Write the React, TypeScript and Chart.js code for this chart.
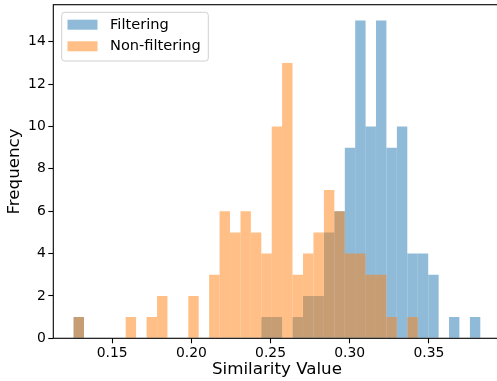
import React, { useEffect, useRef } from "react";
import { Chart, registerables } from "chart.js";

Chart.register(...registerables);

// Shared histogram bin edges (39 bins)
const binEdges = [
  0.1256, 0.1322, 0.1388, 0.1454, 0.1519, 0.1585, 0.1651, 0.1717, 0.1783, 0.1849,
  0.1915, 0.1981, 0.2046, 0.2112, 0.2178, 0.2244, 0.2310, 0.2376, 0.2442, 0.2508,
  0.2573, 0.2639, 0.2705, 0.2771, 0.2837, 0.2903, 0.2969, 0.3035, 0.3100, 0.3166,
  0.3232, 0.3298, 0.3364, 0.3430, 0.3496, 0.3562, 0.3627, 0.3693, 0.3759, 0.3825,
];

const filteringCounts = [
  1, 0, 0, 0, 0, 0, 0, 0, 0, 0, 0, 0, 0, 0, 0, 0, 0, 0, 1, 1,
  0, 1, 2, 2, 5, 6, 9, 15, 10, 15, 9, 10, 4, 4, 3, 0, 1, 0, 1,
];

const nonFilteringCounts = [
  1, 0, 0, 0, 0, 1, 0, 1, 2, 0, 0, 2, 0, 3, 6, 5, 6, 5, 4, 10,
  13, 3, 4, 5, 7, 6, 4, 4, 3, 3, 1, 0, 1, 0, 0, 0, 0, 0, 0,
];

const seriesLabels = ["Filtering", "Non-filtering"];
const xTickValues = [0.15, 0.2, 0.25, 0.3, 0.35];
const yTickValues = [0, 2, 4, 6, 8, 10, 12, 14];
const xRange = [0.1128, 0.3953];
const yRange = [0, 15.75];
const xTitle = "Similarity Value";
const yTitle = "Frequency";

const BLUE = "rgba(31,119,180,0.5)";
const ORANGE = "rgba(255,127,14,0.5)";
const FONT = "'DejaVu Sans', 'Liberation Sans', sans-serif";

const toPoints = (counts: number[]) =>
  counts.map((c, i) => ({ x: (binEdges[i] + binEdges[i + 1]) / 2, y: c }));

const framePlugin = {
  id: "frameAndLegend",
  afterDatasetsDraw(chart: any) {
    const { ctx, chartArea: a } = chart;
    ctx.save();
    // spines
    ctx.strokeStyle = "#000";
    ctx.lineWidth = 1.1;
    ctx.strokeRect(a.left, a.top, a.right - a.left, a.bottom - a.top);

    // legend box
    const lx = a.left + 8.4;
    const ly = a.top + 7.6;
    const lw = 146.6;
    const lh = 48.7;
    const r = 3;
    ctx.beginPath();
    ctx.moveTo(lx + r, ly);
    ctx.lineTo(lx + lw - r, ly);
    ctx.arcTo(lx + lw, ly, lx + lw, ly + r, r);
    ctx.lineTo(lx + lw, ly + lh - r);
    ctx.arcTo(lx + lw, ly + lh, lx + lw - r, ly + lh, r);
    ctx.lineTo(lx + r, ly + lh);
    ctx.arcTo(lx, ly + lh, lx, ly + lh - r, r);
    ctx.lineTo(lx, ly + r);
    ctx.arcTo(lx, ly, lx + r, ly, r);
    ctx.closePath();
    ctx.fillStyle = "rgba(255,255,255,0.8)";
    ctx.fill();
    ctx.strokeStyle = "#d0d0d0";
    ctx.lineWidth = 1;
    ctx.stroke();

    chart.data.datasets.forEach((ds: any, i: number) => {
      const py = ly + 7.4 + i * 21.6;
      ctx.fillStyle = ds.backgroundColor;
      ctx.fillRect(lx + 5.8, py, 30, 10);
      ctx.fillStyle = "#000";
      ctx.font = `14.6px ${FONT}`;
      ctx.textBaseline = "middle";
      ctx.textAlign = "left";
      ctx.fillText(ds.label, lx + 48.3, py + 5.3);
    });
    ctx.restore();
  },
};

export default function App() {
  const ref = useRef<HTMLCanvasElement>(null);

  useEffect(() => {
    const canvas = ref.current;
    if (!canvas) return;
    const chart = new Chart(canvas, {
      type: "bar",
      data: {
        datasets: [
          {
            label: seriesLabels[0],
            data: toPoints(filteringCounts),
            backgroundColor: BLUE,
            borderWidth: 0,
            inflateAmount: 0,
            order: 1,
            barPercentage: 1,
            categoryPercentage: 1,
            grouped: false,
          } as any,
          {
            label: seriesLabels[1],
            data: toPoints(nonFilteringCounts),
            backgroundColor: ORANGE,
            borderWidth: 0,
            inflateAmount: 0,
            order: 0,
            barPercentage: 1,
            categoryPercentage: 1,
            grouped: false,
          } as any,
        ],
      },
      options: {
        responsive: false,
        animation: false,
        layout: { padding: { top: 4.7, right: 9.4, left: 0, bottom: 0 } },
        plugins: {
          legend: { display: false },
          tooltip: { enabled: false },
        },
        scales: {
          x: {
            type: "linear",
            min: xRange[0],
            max: xRange[1],
            offset: false,
            grid: {
              display: true,
              offset: false,
              drawOnChartArea: false,
              drawTicks: true,
              tickLength: 5,
              tickColor: "#000",
              tickWidth: 1.1,
            },
            border: { display: false },
            afterBuildTicks: (axis: any) => {
              axis.ticks = xTickValues.map((v) => ({ value: v }));
            },
            afterFit: (scale: any) => {
              scale.height = 42.7;
              scale.paddingLeft = 0;
              scale.paddingRight = 0;
            },
            ticks: {
              autoSkip: false,
              maxRotation: 0,
              padding: 1.5,
              color: "#000",
              font: { family: FONT, size: 13.9 },
              callback: (v: any) => Number(v).toFixed(2),
            },
            title: {
              display: true,
              text: xTitle,
              color: "#000",
              font: { family: FONT, size: 16.7 },
              padding: { top: 0, bottom: 1.3 },
            },
          },
          y: {
            type: "linear",
            min: yRange[0],
            max: yRange[1],
            grid: {
              display: true,
              drawOnChartArea: false,
              drawTicks: true,
              tickLength: 5,
              tickColor: "#000",
              tickWidth: 1.1,
            },
            border: { display: false },
            afterBuildTicks: (axis: any) => {
              axis.ticks = yTickValues.map((v) => ({ value: v }));
            },
            afterFit: (scale: any) => {
              scale.width = 53.3;
              scale.paddingTop = 0;
              scale.paddingBottom = 0;
            },
            ticks: {
              autoSkip: false,
              padding: 2.5,
              color: "#000",
              font: { family: FONT, size: 13.9 },
              callback: (v: any) => String(v),
            },
            title: {
              display: true,
              text: yTitle,
              color: "#000",
              font: { family: FONT, size: 16.7 },
              padding: { top: 5, bottom: 0 },
            },
          },
        },
      } as any,
      plugins: [framePlugin],
    });
    return () => chart.destroy();
  }, []);

  return (
    <div
      style={{
        position: "fixed",
        left: 0,
        top: 0,
        width: 510,
        height: 381,
        overflow: "hidden",
        background: "#fff",
      }}
    >
      <canvas ref={ref} width={510} height={381} style={{ display: "block", width: 510, height: 381 }} />
    </div>
  );
}
